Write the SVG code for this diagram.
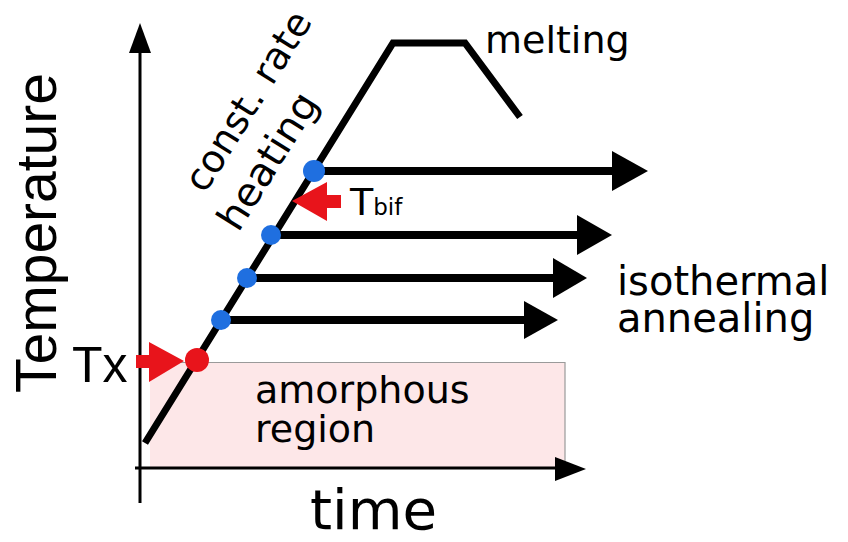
<svg xmlns="http://www.w3.org/2000/svg" width="848" height="542" viewBox="0 0 848 542">
<style>
.ax{stroke:#000;stroke-width:3;fill:none}
.hl{stroke:#000;stroke-width:8;fill:none}
.head{fill:#000}
.red{fill:#e8141b}
.blue{fill:#1f6fe0}
.lbl{font-family:"DejaVu Sans",sans-serif;fill:#000}
.big{font-family:"Liberation Sans",Arial,sans-serif;fill:#000}
</style>
<rect width="848" height="542" fill="#fff"/>
<g id="amorphous-region">
<rect x="150" y="362" width="415" height="105" fill="#fde7e8"/>
<path d="M150,362.5 H565 V467" stroke="#9a9a9a" stroke-width="1.2" fill="none"/>
<text class="lbl" x="255" y="403" font-size="38">amorphous</text>
<text class="lbl" x="255" y="442" font-size="38">region</text>
</g>
<g id="axes">
<line class="ax" x1="140" y1="50" x2="140" y2="503"/>
<polygon class="head" points="140,23 129,53 151,53"/>
<line class="ax" x1="135" y1="468" x2="558" y2="468" stroke-width="3.5"/>
<polygon class="head" points="555,457 586,469 555,481"/>
<text class="big" transform="translate(56,393) rotate(-90)" font-size="57">Temperature</text>
<text class="lbl" x="310" y="529" font-size="55" textLength="127" lengthAdjust="spacingAndGlyphs">time</text>
</g>
<g id="connectors">
<path d="M145,443 L393,43 L465,43 L520,117" stroke="#000" stroke-width="7" fill="none"/>
<line class="hl" x1="313" y1="171" x2="615" y2="171"/>
<polygon class="head" points="612,151 648,171 612,191"/>
<line class="hl" x1="270" y1="235" x2="580" y2="235"/>
<polygon class="head" points="577,215 612,235 577,255"/>
<line class="hl" x1="247" y1="278" x2="556" y2="278"/>
<polygon class="head" points="553,258 587,278 553,298"/>
<line class="hl" x1="221" y1="320" x2="527" y2="320"/>
<polygon class="head" points="524,301 558,320 524,339"/>
</g>
<g id="heating-label">
<text class="lbl" transform="translate(259,108) rotate(-58)" font-size="38" text-anchor="middle">const. rate</text>
<text class="lbl" transform="translate(279,168) rotate(-58)" font-size="39" text-anchor="middle" textLength="154" lengthAdjust="spacingAndGlyphs">heating</text>
</g>
<g id="melting-label">
<text class="lbl" x="485" y="53" font-size="38">melting</text>
</g>
<g id="isothermal-label">
<text class="lbl" x="617" y="295" font-size="40">isothermal</text>
<text class="lbl" x="617" y="332" font-size="40">annealing</text>
</g>
<g id="points">
<circle class="red" cx="197" cy="360" r="12"/>
<circle class="blue" cx="221" cy="320" r="10"/>
<circle class="blue" cx="247" cy="278" r="10"/>
<circle class="blue" cx="271" cy="235" r="10"/>
<circle class="blue" cx="314" cy="171" r="11"/>
</g>
<g id="tx-marker">
<polygon class="red" points="136,355 149,355 149,342 184,361 149,382 149,368 136,368"/>
<text class="big" x="72" y="382" font-size="50">Tx</text>
</g>
<g id="tbif-marker">
<polygon class="red" points="341,195 327,195 327,182 292,201 327,221 327,208 341,208"/>
<text class="lbl" x="350" y="215" font-size="38">T<tspan font-size="23">bif</tspan></text>
</g>
</svg>
